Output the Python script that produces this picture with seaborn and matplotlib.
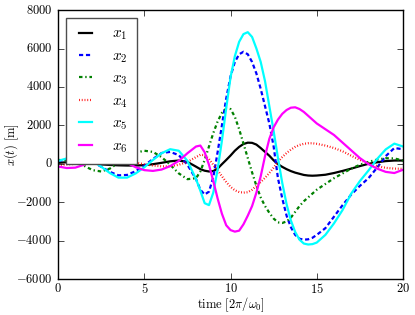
import pandas as pd
import seaborn as sns
import matplotlib
matplotlib.use("Agg")
import matplotlib.pyplot as plt
from matplotlib.ticker import FuncFormatter

# sample times (denser through the big oscillation)
time = [0, 0.5, 1, 1.5, 2, 2.5, 3, 3.5, 4, 4.5, 5, 5.5, 6, 6.5, 7, 7.5,
        8, 8.25, 8.5, 8.75, 9, 9.25, 9.5, 9.75, 10, 10.25, 10.5, 10.75,
        11, 11.25, 11.5, 11.75, 12, 12.25, 12.5, 12.75, 13, 13.25, 13.5,
        13.75, 14, 14.25, 14.5, 14.75, 15,
        15.5, 16, 16.5, 17, 17.5, 18, 18.5, 19, 19.5, 20]

x1 = [50, 80, 90, 60, 20, -30, -60, -80, -90, -90, -70, -20, 50, 130, 170, 100,
      -150, -280, -360, -400, -380, -250, -20, 200, 430, 680, 880, 1030,
      1100, 1090, 1000, 820, 620, 420, 180, -20, -160, -280, -380,
      -460, -520, -580, -610, -620, -610,
      -570, -480, -370, -250, -120, 0, 80, 140, 170, 170]

x2 = [150, 220, 240, 200, 80, -150, -420, -600, -580, -380, -100, 250, 560, 620, 450, -50,
      -800, -1350, -1600, -1450, -700, 600, 2000, 3400, 4550, 5300, 5700, 5830,
      5700, 5300, 4700, 3900, 3000, 2100, 900, -750, -1800, -2700, -3300,
      -3700, -3900, -3950, -3930, -3850, -3700,
      -3350, -2750, -2150, -1600, -1150, -750, -200, 400, 820, 760]

x3 = [200, 180, 100, -100, -330, -400, -250, 50, 350, 580, 680, 620, 350, -50, -500, -800,
      -750, -400, 200, 900, 1600, 2200, 2650, 2880, 2850, 2450, 1800, 1050,
      300, -450, -1150, -1750, -2200, -2550, -2850, -3050, -3080, -3000, -2800,
      -2500, -2200, -1950, -1750, -1550, -1350,
      -1050, -750, -500, -250, -50, 100, 220, 290, 280, 170]

x4 = [-60, -40, 0, 60, 110, 150, 170, 170, 130, 60, -20, -90, -130, -130, -50, 100,
      350, 470, 450, 250, -50, -330, -650, -950, -1200, -1380, -1470, -1500,
      -1480, -1350, -1150, -950, -730, -480, -200, 100, 350, 560, 740,
      880, 980, 1040, 1070, 1070, 1040,
      950, 820, 650, 420, 200, 20, -120, -210, -250, -260]

x5 = [150, 280, 330, 300, 150, -150, -480, -720, -720, -500, -180, 200, 550, 760, 680, 150,
      -800, -1400, -2050, -2150, -1500, -300, 1200, 2900, 4500, 5600, 6350, 6750,
      6850, 6600, 6000, 5300, 4300, 3000, 1700, 300, -1000, -2100, -2950,
      -3550, -3950, -4150, -4200, -4180, -4100,
      -3700, -3100, -2400, -1550, -900, -350, 250, 750, 1050, 900]

x6 = [-140, -220, -200, -50, 200, 430, 460, 300, 50, -180, -330, -370, -300, -120, 150, 550,
      900, 950, 600, -50, -900, -1800, -2600, -3200, -3450, -3530, -3480, -3150,
      -2700, -2200, -1500, -650, 400, 1300, 1900, 2300, 2600, 2800, 2920,
      2940, 2850, 2700, 2500, 2300, 2100,
      1800, 1500, 1100, 700, 300, -20, -250, -420, -480, -310]

names = ["x1", "x2", "x3", "x4", "x5", "x6"]
labels = [r"$x_1$", r"$x_2$", r"$x_3$", r"$x_4$", r"$x_5$", r"$x_6$"]
colors = ["#000000", "#0000ff", "#008000", "#ff0000", "#00ffff", "#ff00ff"]
styles = ["-", (0, (3, 2)), (0, (2.5, 2, 1, 2)), (0, (0.6, 1.4)), "-", "-"]

plt.style.use("classic")
plt.rcParams["mathtext.fontset"] = "cm"
plt.rcParams["font.family"] = ["DejaVu Serif"]

df = pd.DataFrame({"time": time, "x1": x1, "x2": x2, "x3": x3,
                   "x4": x4, "x5": x5, "x6": x6})
long_df = df.melt(id_vars="time", var_name="series", value_name="x")

fig, ax = plt.subplots(figsize=(4.15, 3.15), dpi=100)
fig.subplots_adjust(left=0.14, right=0.971, bottom=0.114, top=0.968)

for name, lab, col, ls in zip(names, labels, colors, styles):
    sub = long_df[long_df["series"] == name]
    sns.lineplot(data=sub, x="time", y="x", ax=ax, color=col, linestyle=ls,
                 lw=1.6, label=lab, errorbar=None)

ax.set_xlim(0, 20)
ax.set_ylim(-6000, 8000)
ax.set_xticks([0, 5, 10, 15, 20])
ax.set_yticks(range(-6000, 8001, 2000))
fmt = FuncFormatter(lambda v, p: r"$%d$" % v)
ax.xaxis.set_major_formatter(fmt)
ax.yaxis.set_major_formatter(fmt)
ax.tick_params(labelsize=9)
ax.tick_params(axis="x", pad=2)
ax.set_xlabel(r"$\mathrm{time}\ [2\pi/\omega_0]$", fontsize=9, labelpad=0)
ax.set_ylabel(r"$x(t)\ [\mathrm{m}]$", fontsize=9)
ax.yaxis.set_label_coords(-0.108, 0.5)

leg = ax.legend(loc="upper left", fontsize=11, handlelength=1.45,
                labelspacing=0.45, borderpad=0.6, handletextpad=1.0)
leg.get_frame().set_edgecolor("0.3")

fig.savefig("out.png", dpi=100)
